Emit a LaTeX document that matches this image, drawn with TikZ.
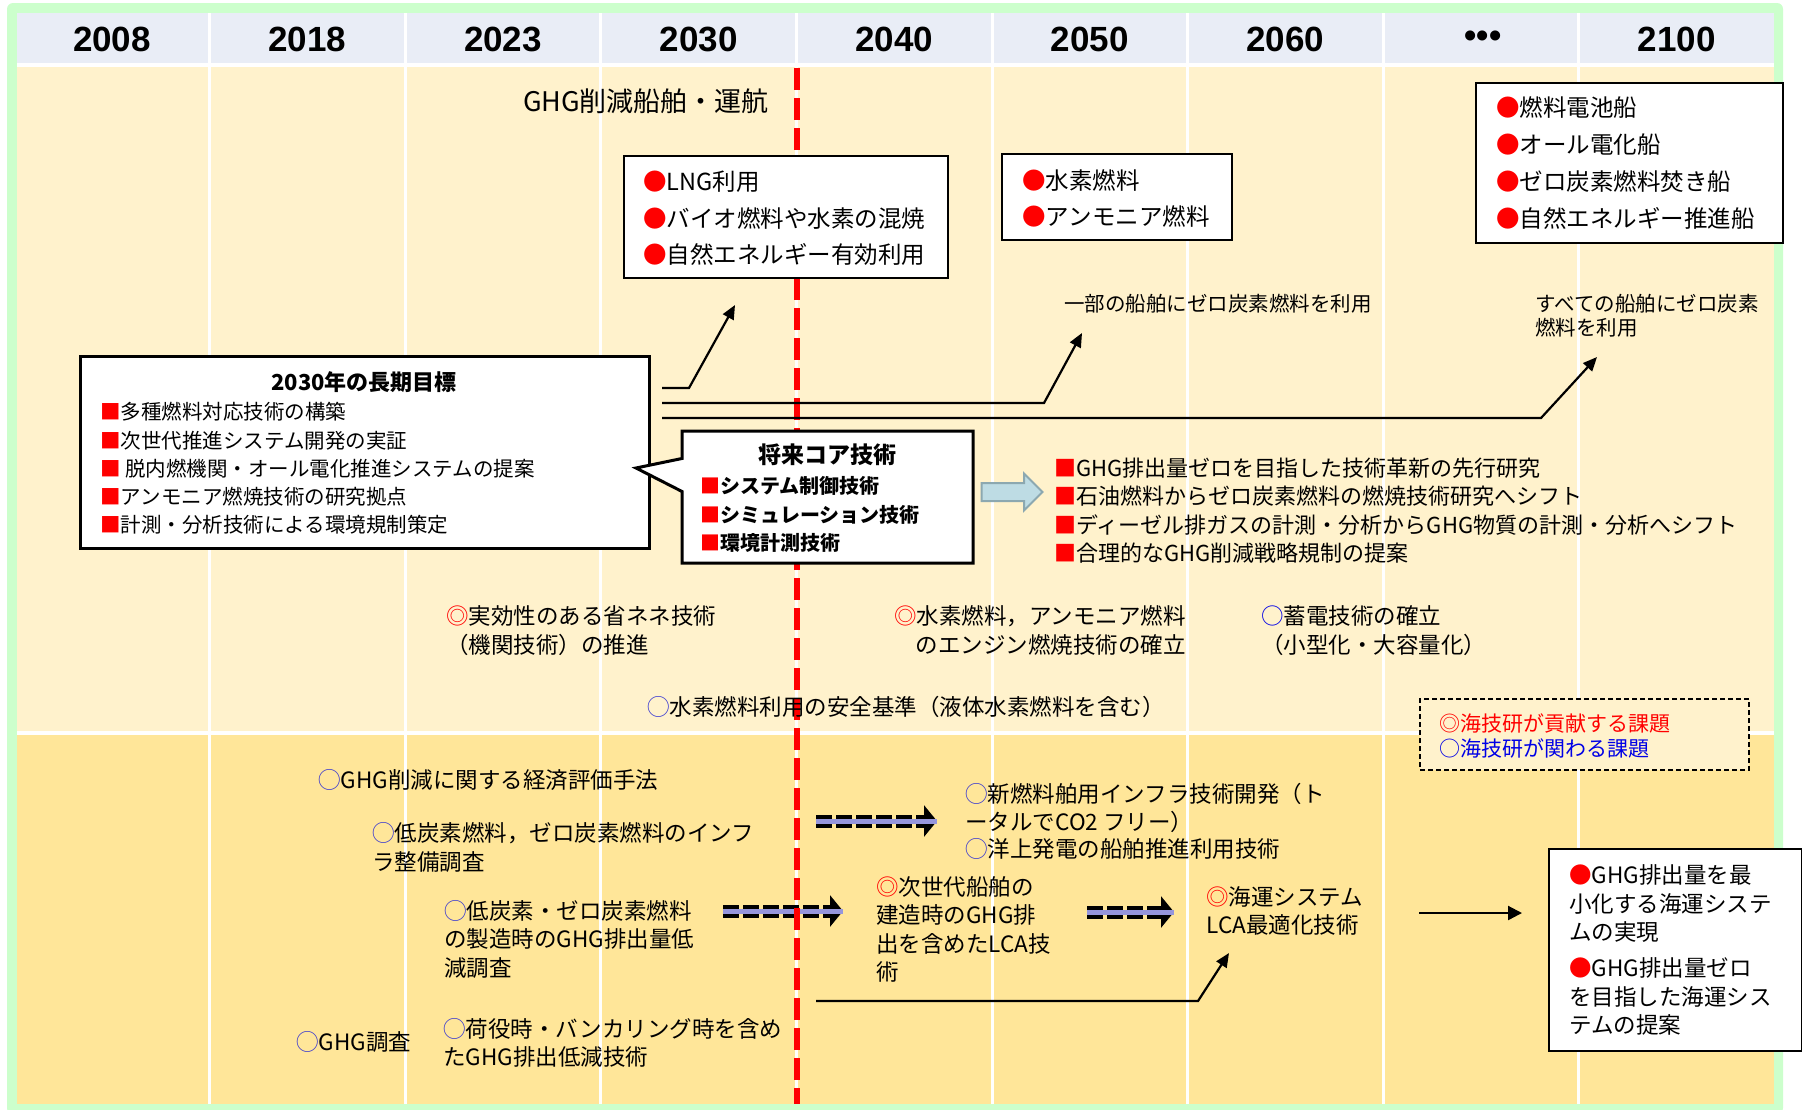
\documentclass[tikz,border=0pt]{standalone}
\usepackage{fontspec}
\setmainfont{Noto Sans CJK JP}
\newfontfamily\yearfont{Liberation Sans}
\usepackage{tikz}
\usetikzlibrary{arrows.meta}
\usetikzlibrary{shapes.arrows}
\usetikzlibrary{shapes.callouts}
\usepackage{xcolor}
\definecolor{ColFrame}{RGB}{204,255,204}
\definecolor{ColHead}{RGB}{233,237,246}
\definecolor{ColUpper}{RGB}{255,242,204}
\definecolor{ColLower}{RGB}{255,230,153}
\definecolor{ColRed}{RGB}{255,0,0}
\definecolor{ColBlue}{RGB}{0,0,230}
\definecolor{ColRing}{RGB}{50,50,210}
\definecolor{ColLav}{RGB}{150,150,220}
\definecolor{ColArrFill}{RGB}{190,220,228}
\definecolor{ColArrLine}{RGB}{140,168,176}
\tikzstyle{YearLabel}=[font=\yearfont\bfseries\fontsize{17.5}{20}\selectfont]
\tikzstyle{ColLine}=[white,line width=1.5pt]
\tikzstyle{RedDash}=[ColRed,line width=3pt,dash pattern=on 11pt off 4pt]
\tikzstyle{BoxFrame}=[draw=black,fill=white,line width=1.25pt,inner sep=0pt]
\tikzstyle{ItemText}=[anchor=west,align=left,inner sep=0pt]
\tikzstyle{TopItem}=[ItemText,font=\fontsize{11.75}{18.25}\selectfont]
\tikzstyle{GoalItem}=[ItemText,font=\fontsize{10.25}{14.15}\selectfont]
\tikzstyle{CoreItem}=[ItemText,font=\bfseries\fontsize{10}{14.25}\selectfont]
\tikzstyle{ListItem}=[ItemText,font=\fontsize{11}{14.17}\selectfont]
\tikzstyle{NoteText}=[ItemText,font=\fontsize{10.25}{12}\selectfont]
\tikzstyle{MidText}=[ItemText,font=\fontsize{11.25}{14.5}\selectfont]
\tikzstyle{LowText}=[ItemText,font=\fontsize{11.25}{14.25}\selectfont]
\tikzstyle{KeyText}=[ItemText,font=\fontsize{10.5}{12.5}\selectfont]
\tikzstyle{LinkArrow}=[black,line width=1.1pt,-{Triangle[length=7pt,width=6pt]}]
\tikzstyle{DashArrow}=[black,line width=6.5pt,dash pattern=on 8pt off 2pt,
-{Triangle[length=6.5pt,width=15.5pt]},postaction={draw=ColLav,line width=2.5pt,solid,-}]
\tikzstyle{BlockArrow}=[single arrow,draw=ColArrLine,fill=ColArrFill,line width=1pt,
inner sep=4pt,minimum height=30.5pt,single arrow head extend=4.75pt]
\begin{document}
\begin{tikzpicture}[x=0.5pt,y=-0.5pt]
        \useasboundingbox(0,0)rectangle(1802,1109);
        \fill[white](0,0)rectangle(1802,1109);
        \fill[ColFrame,rounded corners=3pt](7,3)rectangle(1783,1114);
        \fill[white](17,13)rectangle(1774,1104);
        \fill[ColHead](17,13)rectangle(1774,63);
        \fill[ColUpper](17,67)rectangle(1774,731);
        \fill[ColLower](17,735)rectangle(1774,1104);
        \draw[ColLine](209.6,13)--(209.6,1104);
        \draw[ColLine](405.2,13)--(405.2,1104);
        \draw[ColLine](600.8,13)--(600.8,1104);
        \draw[ColLine](796.4,13)--(796.4,1104);
        \draw[ColLine](992,13)--(992,1104);
        \draw[ColLine](1187.6,13)--(1187.6,1104);
        \draw[ColLine](1383.2,13)--(1383.2,1104);
        \draw[ColLine](1578.8,13)--(1578.8,1104);
        \node[YearLabel](y2008)at(112,39){2008};
        \node[YearLabel](y2018)at(307.4,39){2018};
        \node[YearLabel](y2023)at(503,39){2023};
        \node[YearLabel](y2030)at(698.6,39){2030};
        \node[YearLabel](y2040)at(894.2,39){2040};
        \node[YearLabel](y2050)at(1089.8,39){2050};
        \node[YearLabel](y2060)at(1285.4,39){2060};
        \node[YearLabel](ydots)at(1483,39){•••};
        \node[YearLabel](y2100)at(1676.6,39){2100};
        \coordinate(d1s)at(816,821);
        \coordinate(d1e)at(937,821);
        \coordinate(d2s)at(723,911);
        \coordinate(d2e)at(843,911);
        \coordinate(d3s)at(1087,912);
        \coordinate(d3e)at(1174,912);
        \draw[DashArrow](d1s)--(d1e);
        \draw[DashArrow](d2s)--(d2e);
        \draw[DashArrow](d3s)--(d3e);
        \draw[RedDash](797,68)--(797,1104);
        \node[font=\fontsize{13.5}{16}\selectfont](ship)at(646,101){GHG削減船舶・運航};
        \node[BoxFrame,minimum width=162pt,minimum height=61pt](lng)at(786,217){};
        \node[TopItem](lngtext)at(643,218.5){\textcolor{ColRed}{●}LNG利用\\\textcolor{ColRed}{●}バイオ燃料や水素の混焼\\\textcolor{ColRed}{●}自然エネルギー有効利用};
        \node[BoxFrame,minimum width=115pt,minimum height=43pt](hyd)at(1117,197){};
        \node[TopItem](hydtext)at(1022,198.5){\textcolor{ColRed}{●}水素燃料\\\textcolor{ColRed}{●}アンモニア燃料};
        \node[BoxFrame,minimum width=153.5pt,minimum height=80pt](zero)at(1629.5,163){};
        \node[TopItem,font=\fontsize{11.75}{18.5}\selectfont](zerotext)at(1496,163.5){\textcolor{ColRed}{●}燃料電池船\\\textcolor{ColRed}{●}オール電化船\\\textcolor{ColRed}{●}ゼロ炭素燃料焚き船\\\textcolor{ColRed}{●}自然エネルギー推進船};
        \node[NoteText](some)at(1064,304){一部の船舶にゼロ炭素燃料を利用};
        \node[NoteText](all)at(1535,316){すべての船舶にゼロ炭素\\燃料を利用};
        \node[BoxFrame,line width=1.5pt,minimum width=284.5pt,minimum height=96pt](goal)at(364.5,452){};
        \node[font=\bfseries\fontsize{11}{14}\selectfont](goaltitle)at(364,382){2030年の長期目標};
        \node[GoalItem](goaltext)at(100,468.5){\textcolor{ColRed}{■}多種燃料対応技術の構築\\\textcolor{ColRed}{■}次世代推進システム開発の実証\\\textcolor{ColRed}{■} 脱内燃機関・オール電化推進システムの提案\\\textcolor{ColRed}{■}アンモニア燃焼技術の研究拠点\\\textcolor{ColRed}{■}計測・分析技術による環境規制策定};
        \node[BoxFrame,line width=1.5pt,rectangle callout,callout absolute pointer={(636,468)},
        callout pointer width=16.5pt,minimum width=145.5pt,minimum height=66pt](core)at(827.5,497){};
        \node[font=\bfseries\fontsize{11.5}{14}\selectfont](coretitle)at(827,455){将来コア技術};
        \node[CoreItem](coretext)at(700,514.5){\textcolor{ColRed}{■}システム制御技術\\\textcolor{ColRed}{■}シミュレーション技術\\\textcolor{ColRed}{■}環境計測技術};
        \coordinate(g1)at(662,388);
        \coordinate(t1)at(735,305);
        \coordinate(g2)at(662,403);
        \coordinate(t2)at(1082,333);
        \coordinate(g3)at(662,418);
        \coordinate(t3)at(1597,357);
        \draw[LinkArrow](g1)--(689,388)--(t1);
        \draw[LinkArrow](g2)--(1044,403)--(t2);
        \draw[LinkArrow](g3)--(1541,418)--(t3);
        \node[BlockArrow](shift)at(1007.5,492){};
        \node[ListItem](research)at(1054,510.5){\textcolor{ColRed}{■}GHG排出量ゼロを目指した技術革新の先行研究\\\textcolor{ColRed}{■}石油燃料からゼロ炭素燃料の燃焼技術研究へシフト\\\textcolor{ColRed}{■}ディーゼル排ガスの計測・分析からGHG物質の計測・分析へシフト\\\textcolor{ColRed}{■}合理的なGHG削減戦略規制の提案};
        \node[MidText](saving)at(446,630.5){\textcolor{ColRed}{◎}実効性のある省ネネ技術\\（機関技術）の推進};
        \node[MidText,anchor=east,align=right](engine)at(1186,630.5){\textcolor{ColRed}{◎}水素燃料，アンモニア燃料\\のエンジン燃焼技術の確立};
        \node[MidText](battery)at(1261,630.5){\textcolor{ColBlue}{○}蓄電技術の確立\\（小型化・大容量化）};
        \node[MidText](safety)at(647,707){\textcolor{ColRing}{◯}水素燃料利用の安全基準（液体水素燃料を含む）};
        \node[draw=black,fill=ColUpper,line width=0.8pt,dash pattern=on 2.5pt off 1.5pt,
        minimum width=164.5pt,minimum height=35.5pt](key)at(1584.5,734.5){};
        \node[KeyText](keytext)at(1439,735.5){\textcolor{ColRed}{◎海技研が貢献する課題}\\\textcolor{ColBlue}{○海技研が関わる課題}};
        \node[LowText](econ)at(318,780){\textcolor{ColRing}{◯}GHG削減に関する経済評価手法};
        \node[LowText](infra)at(372,847.5){\textcolor{ColRing}{◯}低炭素燃料，ゼロ炭素燃料のインフ\\ラ整備調査};
        \node[LowText](prod)at(444,939){\textcolor{ColRing}{◯}低炭素・ゼロ炭素燃料\\の製造時のGHG排出量低\\減調査};
        \node[LowText](survey)at(296,1042){\textcolor{ColRing}{◯}GHG調査};
        \node[LowText](cargo)at(443,1043){\textcolor{ColRing}{◯}荷役時・バンカリング時を含め\\たGHG排出低減技術};
        \node[LowText,font=\fontsize{11.25}{13.75}\selectfont](newfuel)at(965,821.5){\textcolor{ColRing}{◯}新燃料舶用インフラ技術開発（ト\\ータルでCO2 フリー）\\\textcolor{ColRing}{◯}洋上発電の船舶推進利用技術};
        \node[LowText](nextship)at(876,929.5){\textcolor{ColRed}{◎}次世代船舶の\\建造時のGHG排\\出を含めたLCA技\\術};
        \node[LowText](lca)at(1206,911){\textcolor{ColRed}{◎}海運システム\\LCA最適化技術};
        \coordinate(b1)at(816,1001);
        \coordinate(b2)at(1229,953);
        \draw[LinkArrow](b1)--(1198,1001)--(b2);
        \node[BoxFrame,line width=1pt,minimum width=126.5pt,minimum height=101pt](goal2100)at(1675.5,950){};
        \node[LowText](goal2100text)at(1569,950){\textcolor{ColRed}{●}GHG排出量を最\\小化する海運システ\\ムの実現\\[3.75pt]\textcolor{ColRed}{●}GHG排出量ゼロ\\を目指した海運シス\\テムの提案};
        \coordinate(a1)at(1419,913);
        \coordinate(a2)at(1522,913);
        \draw[LinkArrow,-{Triangle[length=7pt,width=7pt]}](a1)--(a2);
    \end{tikzpicture}
\end{document}
